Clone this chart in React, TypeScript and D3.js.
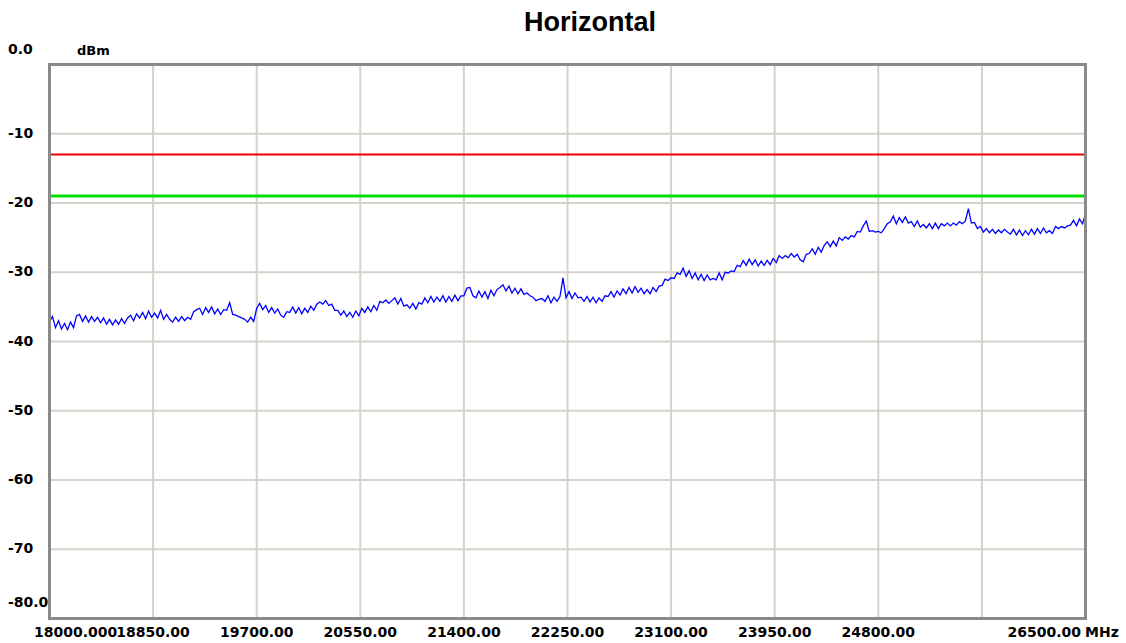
import React from "react";
import * as d3 from "d3";

const TITLE = "Horizontal";
const X_START = 18000;
const X_STOP = 26500;
const xGridFreqs = [18000, 18850, 19700, 20550, 21400, 22250, 23100, 23950, 24800, 25650, 26500];
const xTickLabels = ["18000.000", "18850.00", "19700.00", "20550.00", "21400.00", "22250.00", "23100.00", "23950.00", "24800.00", "", "26500.00"];
const yGridValues = [0, -10, -20, -30, -40, -50, -60, -70, -80];
const yTickLabels = ["0.0", "-10", "-20", "-30", "-40", "-50", "-60", "-70", "-80.0"];
const limitRed = -13;
const limitGreen = -19;

// measured trace (dBm), evenly spaced sweep points from 18000 to 26500 MHz
const trace = [
  -37.1, -36.4, -38.0, -37.0, -38.2, -37.4, -38.3, -37.2, -38.0, -36.3,
  -36.1, -37.1, -36.3, -37.2, -36.4, -37.1, -36.5, -37.3, -36.6, -37.5,
  -36.8, -37.6, -36.9, -37.5, -36.7, -37.4, -36.6, -36.2, -37.0, -36.0,
  -36.6, -35.8, -36.7, -35.6, -36.5, -35.9, -36.6, -35.5, -36.8, -36.1,
  -36.8, -37.2, -36.5, -37.1, -36.4, -37.0, -36.5, -36.8, -35.7, -35.4,
  -35.2, -36.1, -35.1, -35.8, -35.0, -36.0, -35.3, -36.1, -35.4, -35.5,
  -34.4, -36.1, -36.2, -36.4, -36.6, -36.8, -37.2, -36.5, -37.1, -35.2,
  -34.5, -35.4, -34.8, -35.8, -35.1, -35.9, -35.3, -36.2, -36.5, -35.7,
  -35.8, -35.0, -35.9, -35.1, -36.0, -35.2, -35.8, -34.9, -35.5, -34.6,
  -34.3, -34.6, -34.1, -34.8, -34.6, -35.5, -35.5, -36.2, -35.6, -36.4,
  -35.8, -36.5, -35.6, -36.3, -35.2, -35.8, -35.0, -35.7, -34.8, -35.5,
  -34.2, -34.4, -34.0, -34.5, -34.1, -33.7, -34.6, -33.8, -34.9, -34.7,
  -35.2, -34.5, -35.3, -34.4, -34.6, -33.7, -34.4, -33.5, -34.3, -33.6,
  -34.2, -33.4, -34.3, -33.5, -34.2, -33.3, -34.1, -33.4, -33.4, -32.3,
  -32.2, -33.4, -33.7, -32.7, -33.6, -32.8, -33.8, -32.6, -33.4, -32.5,
  -32.2, -31.8, -32.7, -32.0, -33.0, -32.3, -33.1, -32.4, -33.2, -33.0,
  -33.4, -33.6, -34.1, -33.9, -33.8, -34.2, -33.4, -34.4, -33.6, -34.2,
  -33.5, -30.8, -33.7, -32.8, -33.8, -33.0, -33.7, -33.6, -34.2, -33.5,
  -34.3, -33.6, -34.4, -33.7, -34.2, -33.4, -33.5, -32.8, -33.6, -32.7,
  -33.3, -32.4, -33.1, -32.2, -33.0, -32.1, -32.9, -32.3, -33.1, -32.5,
  -33.1, -32.2, -32.8, -32.0, -31.9, -31.0, -31.2, -30.8, -30.9, -30.1,
  -30.3, -29.4, -30.6, -29.8, -30.9, -30.1, -31.1, -30.3, -31.2, -30.4,
  -31.1, -30.9, -31.1, -30.1, -31.1, -30.0, -30.1, -29.8, -29.9, -29.0,
  -29.2, -28.3, -29.0, -28.1, -28.9, -28.2, -29.1, -28.4, -29.0, -28.3,
  -28.9, -28.0, -28.6, -27.6, -28.0, -27.6, -27.9, -27.3, -27.8, -27.4,
  -28.2, -28.5, -27.4, -27.3, -26.6, -27.4, -26.4, -27.1, -26.1, -25.6,
  -26.3, -25.5, -26.2, -25.0, -25.4, -24.9, -25.2, -24.7, -24.9, -24.1,
  -24.2, -23.3, -22.6, -24.1, -24.0, -24.2, -24.1, -24.3, -23.7, -23.0,
  -22.7, -21.9, -23.0, -22.1, -22.8, -22.0, -22.9, -22.7, -23.4, -22.6,
  -23.5, -23.1, -23.6, -23.0, -23.7, -22.9, -23.7, -23.0, -23.3, -22.9,
  -23.3, -22.9, -23.2, -22.7, -23.0, -22.6, -20.8, -22.9, -22.8, -23.7,
  -23.4, -24.2, -23.7, -24.3, -23.8, -24.4, -23.9, -24.3, -23.8, -24.2,
  -24.5, -23.8, -24.6, -23.9, -24.7, -24.0, -24.6, -23.8, -24.5, -23.7,
  -24.4, -23.6, -24.3, -24.0, -24.4, -23.4, -23.7, -23.4, -23.6, -23.3,
  -23.2, -22.5, -23.3, -22.3, -23.0, -21.6,
];

const W = 1126;
const H = 643;
const PLOT = { left: 49.5, right: 1085.5, top: 64.5, bottom: 618.5 };
const LABEL_FONT = "'DejaVu Sans', Verdana, sans-serif";

export default function App() {
  const x = d3.scaleLinear().domain([X_START, X_STOP]).range([PLOT.left, PLOT.right]);
  const y = d3.scaleLinear().domain([0, -80]).range([PLOT.top, PLOT.bottom]);
  const sweep = d3.scaleLinear().domain([0, trace.length - 1]).range([X_START, X_STOP]);
  const line = d3
    .line<number>()
    .x((_, i) => x(sweep(i)))
    .y((d) => y(d));

  return (
    <svg
      width={W}
      height={H}
      style={{ position: "fixed", left: 0, top: 0, background: "#fff" }}
      xmlns="http://www.w3.org/2000/svg"
    >
      <rect x={0} y={0} width={W} height={H} fill="#fff" />
      <text
        x={590}
        y={31}
        textAnchor="middle"
        fontFamily="'Liberation Sans', Arial, sans-serif"
        fontWeight="bold"
        fontSize={27}
        fill="#000"
      >
        {TITLE}
      </text>

      {/* grid */}
      {xGridFreqs.slice(1, -1).map((f) => (
        <line key={"vx" + f} x1={x(f)} x2={x(f)} y1={PLOT.top} y2={PLOT.bottom} stroke="#d6d2ca" strokeWidth={2} />
      ))}
      {yGridValues.slice(1, -1).map((v) => (
        <line key={"hy" + v} x1={PLOT.left} x2={PLOT.right} y1={y(v)} y2={y(v)} stroke="#d6d2ca" strokeWidth={2} />
      ))}

      {/* limit lines */}
      <line x1={PLOT.left} x2={PLOT.right} y1={y(limitRed)} y2={y(limitRed)} stroke="#f00000" strokeWidth={2} />
      <line x1={PLOT.left} x2={PLOT.right} y1={y(limitGreen)} y2={y(limitGreen)} stroke="#00e000" strokeWidth={3} />

      {/* trace */}
      <path d={line(trace) || ""} fill="none" stroke="#0000ff" strokeWidth={1.3} strokeLinejoin="miter" />

      {/* frame */}
      <rect
        x={PLOT.left}
        y={PLOT.top}
        width={PLOT.right - PLOT.left}
        height={PLOT.bottom - PLOT.top}
        fill="none"
        stroke="#8a8a8a"
        strokeWidth={3}
      />

      {/* y labels */}
      {yGridValues.map((v, i) => {
        let by = y(v) + 4;
        if (i === 0) by = 54;
        if (i === yGridValues.length - 1) by = 607;
        return (
          <text key={"yl" + v} x={8} y={by} fontFamily={LABEL_FONT} fontWeight="bold" fontSize={14} fill="#000">
            {yTickLabels[i]}
          </text>
        );
      })}
      <text x={77} y={55} fontFamily={LABEL_FONT} fontWeight="bold" fontSize={13} fill="#000">
        dBm
      </text>

      {/* x labels */}
      {xGridFreqs.map((f, i) => {
        const label = xTickLabels[i];
        if (!label) return null;
        let anchor: "start" | "middle" | "end" = "middle";
        let lx = x(f);
        if (i === 0) {
          anchor = "start";
          lx = 34;
        }
        if (i === xGridFreqs.length - 1) {
          anchor = "end";
          lx = 1081;
        }
        return (
          <text key={"xl" + f} x={lx} y={637} textAnchor={anchor} fontFamily={LABEL_FONT} fontWeight="bold" fontSize={14} fill="#000">
            {label}
          </text>
        );
      })}
      <text x={1085} y={637} fontFamily={LABEL_FONT} fontWeight="bold" fontSize={14} fill="#000">
        MHz
      </text>
    </svg>
  );
}
